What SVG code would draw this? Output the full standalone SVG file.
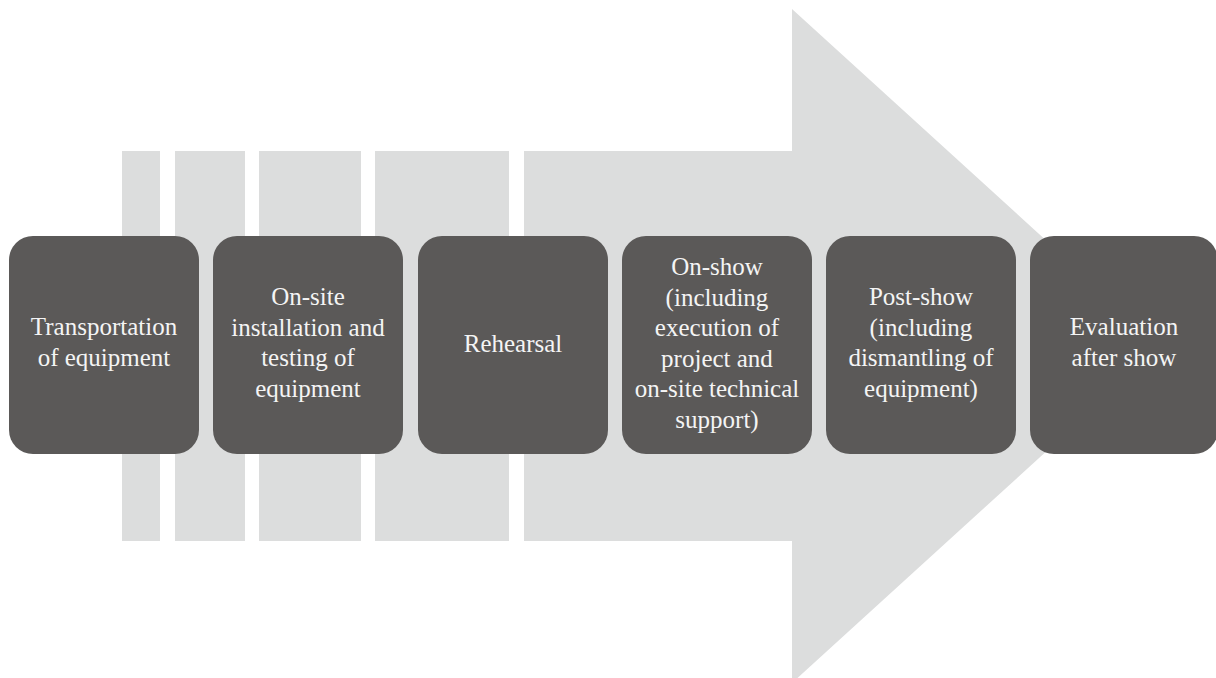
<svg xmlns="http://www.w3.org/2000/svg" width="1216" height="678" viewBox="0 0 1216 678">
<style>
.bg{fill:#dcdddd}
.box{fill:#5b5958}
.t{font-family:"Liberation Serif","Times New Roman",serif;font-size:25px;fill:#f4f4f4;text-anchor:middle}
</style>
<rect width="1216" height="678" fill="#ffffff"/>
<g id="arrow">
<rect class="bg" x="122" y="151" width="38" height="390"/>
<rect class="bg" x="175" y="151" width="70" height="390"/>
<rect class="bg" x="259" y="151" width="102" height="390"/>
<rect class="bg" x="375" y="151" width="134" height="390"/>
<polygon class="bg" points="524,151 792,151 792,9 1162,346 792,683 792,541 524,541"/>
</g>
<g id="connectors"></g>
<g id="n1">
<rect class="box" x="9" y="236" width="190" height="218" rx="24"/>
<text class="t" x="104" y="335"><tspan x="104">Transportation</tspan><tspan x="104" dy="30.5">of equipment</tspan></text>
</g>
<g id="n2">
<rect class="box" x="213" y="236" width="190" height="218" rx="24"/>
<text class="t" x="308" y="305"><tspan x="308">On-site</tspan><tspan x="308" dy="30.5">installation and</tspan><tspan x="308" dy="30.5">testing of</tspan><tspan x="308" dy="30.5">equipment</tspan></text>
</g>
<g id="n3">
<rect class="box" x="418" y="236" width="190" height="218" rx="24"/>
<text class="t" x="513" y="352">Rehearsal</text>
</g>
<g id="n4">
<rect class="box" x="622" y="236" width="190" height="218" rx="24"/>
<text class="t" x="717" y="275"><tspan x="717">On-show</tspan><tspan x="717" dy="30.5">(including</tspan><tspan x="717" dy="30.5">execution of</tspan><tspan x="717" dy="30.5">project and</tspan><tspan x="717" dy="30.5">on-site technical</tspan><tspan x="717" dy="30.5">support)</tspan></text>
</g>
<g id="n5">
<rect class="box" x="826" y="236" width="190" height="218" rx="24"/>
<text class="t" x="921" y="305"><tspan x="921">Post-show</tspan><tspan x="921" dy="30.5">(including</tspan><tspan x="921" dy="30.5">dismantling of</tspan><tspan x="921" dy="30.5">equipment)</tspan></text>
</g>
<g id="n6">
<rect class="box" x="1030" y="236" width="188" height="218" rx="24"/>
<text class="t" x="1124" y="335"><tspan x="1124">Evaluation</tspan><tspan x="1124" dy="30.5">after show</tspan></text>
</g>
</svg>
